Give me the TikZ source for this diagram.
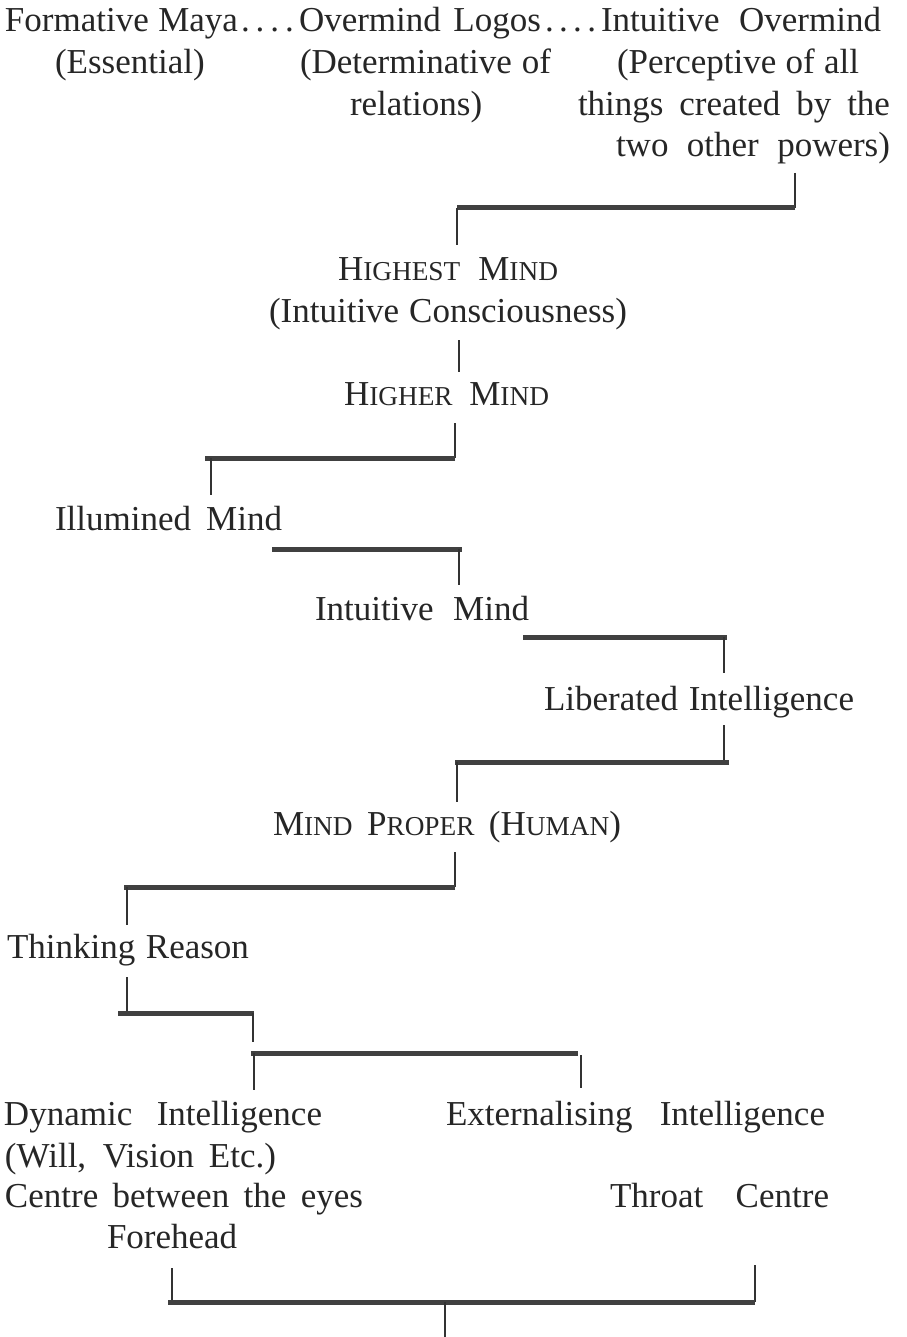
\documentclass[tikz,border=0pt]{standalone}
\usepackage{fontspec}
\setmainfont{Liberation Serif}
\newcommand{\fl}[2]{\makebox[#1pt][s]{#2}}
\newcommand{\sm}[1]{{\fontsize{27.3}{27.3}\selectfont #1}}
\newcommand{\dts}[1]{\makebox[#1pt][s]{.\hfill.\hfill.\hfill.}}
\begin{document}
\begin{tikzpicture}[x=1pt,y=-1pt,
  txt/.style={anchor=base west, inner sep=0pt, outer sep=0pt, font=\fontsize{35}{35}\selectfont, text=black!85},
  tick/.style={line width=1.6pt, draw=black!80},
  bar/.style={line width=5pt, draw=black!75}]
\useasboundingbox (0,0) rectangle (906,1337);
\fill[white] (0,0) rectangle (906,1337);
% top rows
\node[txt] (fm) at (5,32) {\fl{233}{Formative Maya}};
\node[txt] (d1) at (241,32) {\dts{53}};
\node[txt] (ol) at (299,32) {\fl{242}{Overmind Logos}};
\node[txt] (d2) at (545,32) {\dts{51}};
\node[txt] (io) at (601,32) {\fl{280}{Intuitive Overmind}};
\node[txt] (es) at (55,74) {\fl{144}{(Essential)}};
\node[txt] (dt) at (300,74) {\fl{251}{(Determinative of}};
\node[txt] (pc) at (617,74) {\fl{242}{(Perceptive of all}};
\node[txt] (rl) at (350,116) {\fl{130}{relations)}};
\node[txt] (tc) at (578,116) {\fl{312}{things created by the}};
\node[txt] (tw) at (616,157) {\fl{274}{two other powers)}};
% middle
\node[txt] (hm) at (338,281) {\fl{220}{H\sm{IGHEST} M\sm{IND}}};
\node[txt] (ic) at (269,322) {\fl{358}{(Intuitive Consciousness)}};
\node[txt] (hr) at (344,405) {\fl{205}{H\sm{IGHER} M\sm{IND}}};
\node[txt] (im) at (55,530) {\fl{227}{Illumined Mind}};
\node[txt] (tm) at (315,620) {\fl{214}{Intuitive Mind}};
\node[txt] (li) at (544,710) {\fl{310}{Liberated Intelligence}};
\node[txt] (mp) at (273,835) {\fl{348}{M\sm{IND} P\sm{ROPER} (H\sm{UMAN})}};
\node[txt] (tr) at (7,958) {\fl{242}{Thinking Reason}};
% bottom
\node[txt] (di) at (4,1125) {\fl{318}{Dynamic Intelligence}};
\node[txt] (wv) at (5,1167) {\fl{271}{(Will, Vision Etc.)}};
\node[txt] (cb) at (5,1207) {\fl{358}{Centre between the eyes}};
\node[txt] (fh) at (107,1248) {\fl{130}{Forehead}};
\node[txt] (ei) at (446,1125) {\fl{379}{Externalising Intelligence}};
\node[txt] (th) at (610,1207) {\fl{219}{Throat Centre}};
% connector coordinates
\coordinate (a1) at (795,173); \coordinate (a2) at (795,208);
\coordinate (a3) at (457,208); \coordinate (a4) at (457,245);
\coordinate (b1) at (459,340); \coordinate (b2) at (459,372);
\coordinate (c1) at (455,423); \coordinate (c2) at (455,458);
\coordinate (c3) at (205,458); \coordinate (c4) at (211,458); \coordinate (c5) at (211,495);
\coordinate (e1) at (272,549); \coordinate (e2) at (462,549);
\coordinate (e3) at (459,549); \coordinate (e4) at (459,585);
\coordinate (f1) at (523,637); \coordinate (f2) at (727,637);
\coordinate (f3) at (724,637); \coordinate (f4) at (724,673);
\coordinate (g1) at (724,725); \coordinate (g2) at (724,762);
\coordinate (g3) at (729,762); \coordinate (g4) at (455,762);
\coordinate (g5) at (457,762); \coordinate (g6) at (457,802);
\coordinate (h1) at (455,852); \coordinate (h2) at (455,887);
\coordinate (h3) at (124,887); \coordinate (h4) at (127,887); \coordinate (h5) at (127,925);
\coordinate (k1) at (127,977); \coordinate (k2) at (127,1013);
\coordinate (k3) at (118,1013); \coordinate (k4) at (254,1013);
\coordinate (k5) at (253,1013); \coordinate (k6) at (253,1042);
\coordinate (m1) at (251,1053); \coordinate (m2) at (578,1053);
\coordinate (m3) at (254,1053); \coordinate (m4) at (254,1090);
\coordinate (m5) at (581,1055); \coordinate (m6) at (581,1088);
\coordinate (n1) at (172,1268); \coordinate (n2) at (172,1302);
\coordinate (n3) at (755,1265); \coordinate (n4) at (755,1302);
\coordinate (n5) at (168,1302); \coordinate (n6) at (445,1302); \coordinate (n7) at (445,1337);
% connectors
\draw[tick] (a1) -- (a2);
\draw[bar] (a2) -- (a3);
\draw[tick] (a3) -- (a4);
\draw[tick] (b1) -- (b2);
\draw[tick] (c1) -- (c2);
\draw[bar] (c2) -- (c3);
\draw[tick] (c4) -- (c5);
\draw[bar] (e1) -- (e2);
\draw[tick] (e3) -- (e4);
\draw[bar] (f1) -- (f2);
\draw[tick] (f3) -- (f4);
\draw[tick] (g1) -- (g2);
\draw[bar] (g3) -- (g4);
\draw[tick] (g5) -- (g6);
\draw[tick] (h1) -- (h2);
\draw[bar] (h2) -- (h3);
\draw[tick] (h4) -- (h5);
\draw[tick] (k1) -- (k2);
\draw[bar] (k3) -- (k4);
\draw[tick] (k5) -- (k6);
\draw[bar] (m1) -- (m2);
\draw[tick] (m3) -- (m4);
\draw[tick] (m5) -- (m6);
\draw[tick] (n1) -- (n2);
\draw[tick] (n3) -- (n4);
\draw[bar] (n5) -- (n4);
\draw[tick] (n6) -- (n7);
\end{tikzpicture}
\end{document}
